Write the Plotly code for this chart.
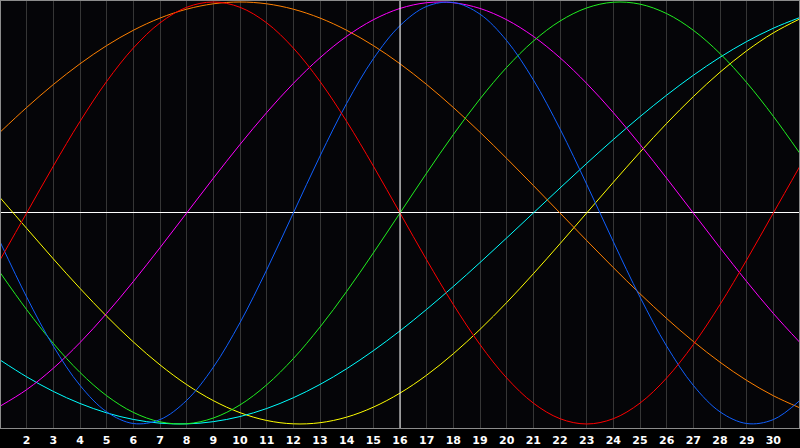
import plotly.graph_objects as go

days = list(range(1, 32))
day_labels = [str(d) for d in range(2, 31)]

# cycle values, -1..1, one per day
red = [-0.2225, 0.0, 0.2225, 0.4339, 0.6235, 0.7818, 0.9010, 0.9749, 1.0, 0.9749, 0.9010, 0.7818, 0.6235,
       0.4339, 0.2225, 0.0, -0.2225, -0.4339, -0.6235, -0.7818, -0.9010, -0.9749, -1.0, -0.9749, -0.9010,
       -0.7818, -0.6235, -0.4339, -0.2225, 0.0, 0.2225]
green = [-0.2817, -0.4582, -0.6182, -0.7557, -0.8660, -0.9450, -0.9898, -0.9989, -0.9718, -0.9096, -0.8146,
         -0.6901, -0.5406, -0.3717, -0.1893, 0.0, 0.1893, 0.3717, 0.5406, 0.6901, 0.8146, 0.9096, 0.9718,
         0.9989, 0.9898, 0.9450, 0.8660, 0.7557, 0.6182, 0.4582, 0.2817]
blue = [-0.1362, -0.3984, -0.6311, -0.8170, -0.9423, -0.9977, -0.9791, -0.8880, -0.7308, -0.5196, -0.2698,
        0.0, 0.2698, 0.5196, 0.7308, 0.8880, 0.9791, 0.9977, 0.9423, 0.8170, 0.6311, 0.3984, 0.1362,
        -0.1362, -0.3984, -0.6311, -0.8170, -0.9423, -0.9977, -0.9791, -0.8880]
magenta = [-0.9158, -0.8372, -0.7357, -0.6142, -0.4759, -0.3247, -0.1646, 0.0, 0.1646, 0.3247, 0.4759,
           0.6142, 0.7357, 0.8372, 0.9158, 0.9694, 0.9966, 0.9966, 0.9694, 0.9158, 0.8372, 0.7357, 0.6142,
           0.4759, 0.3247, 0.1646, 0.0, -0.1646, -0.3247, -0.4759, -0.6142]
orange = [0.3827, 0.5, 0.6088, 0.7071, 0.7934, 0.8660, 0.9239, 0.9659, 0.9914, 1.0, 0.9914, 0.9659, 0.9239,
          0.8660, 0.7934, 0.7071, 0.6088, 0.5, 0.3827, 0.2588, 0.1305, 0.0, -0.1305, -0.2588, -0.3827, -0.5,
          -0.6088, -0.7071, -0.7934, -0.8660, -0.9239]
cyan = [-0.6965, -0.7765, -0.8457, -0.9028, -0.9473, -0.9785, -0.9961, -0.9996, -0.9890, -0.9647, -0.9267,
        -0.8757, -0.8126, -0.7380, -0.6527, -0.5586, -0.4566, -0.3482, -0.2349, -0.1183, 0.0, 0.1183,
        0.2349, 0.3482, 0.4566, 0.5586, 0.6527, 0.7380, 0.8126, 0.8757, 0.9267]
yellow = [0.0730, -0.0730, -0.2175, -0.3572, -0.4894, -0.6112, -0.7199, -0.8133, -0.8893, -0.9464, -0.9833,
          -0.9993, -0.9940, -0.9675, -0.9203, -0.8536, -0.7686, -0.6672, -0.5517, -0.4245, -0.2881, -0.1456,
          0.0, 0.1456, 0.2881, 0.4245, 0.5517, 0.6672, 0.7686, 0.8536, 0.9203]

series = [
    ('yellow', yellow, '#ffff00'),
    ('cyan', cyan, '#00ffff'),
    ('orange', orange, '#ff8000'),
    ('magenta', magenta, '#ff00ff'),
    ('green', green, '#20f020'),
    ('blue', blue, '#1060ff'),
    ('red', red, '#ff0000'),
]

fig = go.Figure()
for name, vals, col in series:
    fig.add_trace(go.Scatter(x=days, y=vals, mode='lines', name=name,
                             line=dict(color=col, width=1, shape='spline', smoothing=1.0),
                             hoverinfo='skip'))

# today marker
fig.add_shape(type='line', x0=16, x1=16, y0=0, y1=1, xref='x', yref='paper',
              line=dict(color='white', width=1))

fig.update_layout(
    width=800, height=448,
    margin=dict(l=1, r=1, t=1, b=20),
    paper_bgcolor='#000000',
    plot_bgcolor='#050508',
    showlegend=False,
    xaxis=dict(range=[1.0375, 30.9625], tickvals=list(range(2, 31)), ticktext=day_labels,
               showgrid=True, gridcolor='#363636', gridwidth=1, zeroline=False,
               showline=True, mirror=True, linecolor='#8c8c8c', linewidth=1,
               ticks='', tickfont=dict(family='DejaVu Sans', size=11, color='white', weight='bold'),
               ticklabelstandoff=2),
    yaxis=dict(range=[-1.019, 1.0047], showgrid=False, showticklabels=False,
               zeroline=True, zerolinecolor='white', zerolinewidth=1,
               showline=True, mirror=True, linecolor='#8c8c8c', linewidth=1),
)

# browser default body margin would shift the plot by 8px
fig.write_html("out.html", config={'displayModeBar': False},
               post_script="document.body.style.margin='0';")
